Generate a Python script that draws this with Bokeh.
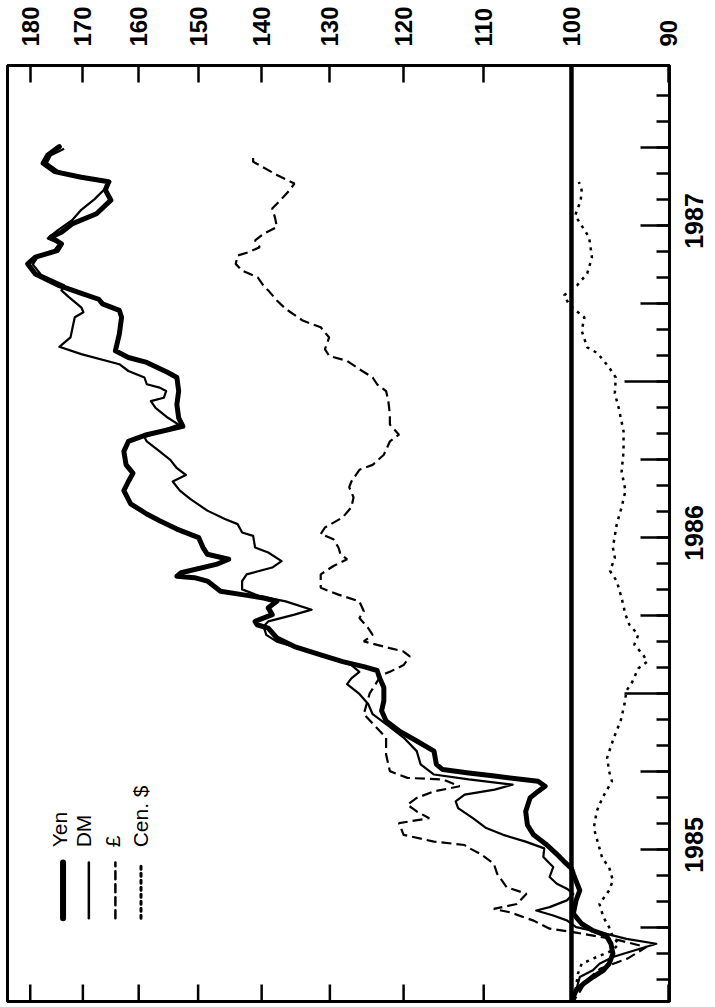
import math
from bokeh.plotting import figure
from bokeh.models import Range1d, FixedTicker, Label, Arrow
from bokeh.embed import file_html
from bokeh.resources import INLINE

# ---------------- data (index, start of period = 100; time in months from Jan 1985) ----------------
yen_months = [0.0, 0.32, 0.58, 0.83, 1.09, 1.35, 1.6, 1.99, 2.37, 2.69, 2.88, 3.14, 3.53, 4.04, 4.42,
              5.06, 5.27, 5.53, 5.85, 6.17, 6.56, 6.94, 7.46, 7.98, 8.23, 8.43, 8.62, 8.82, 8.94, 9.07,
              9.27, 9.78, 10.17, 10.56, 10.94, 11.33, 11.72, 12.23, 12.62, 12.88, 13.03, 13.22, 13.48,
              13.8, 14.13, 14.51, 14.64, 14.77, 15.03, 15.29, 15.54, 15.67, 15.8, 15.93, 16.32, 16.45,
              16.51, 16.64, 16.96, 17.16, 17.35, 17.61, 17.99, 18.32, 18.64, 18.9, 19.29, 19.8, 20.15,
              20.47, 20.79, 21.31, 21.69, 21.95, 22.27, 22.6, 23.11, 23.63, 24.15, 24.34, 24.73, 24.92,
              25.18, 25.82, 26.47, 26.73, 26.98, 27.16, 27.37, 27.68, 28.13, 28.52, 28.78, 29.03, 29.29,
              29.55, 29.74, 30.07, 30.45, 30.97, 31.36, 31.68, 31.85, 32.07, 32.39, 32.71, 33.03]
yen_index = [100.0, 99.8, 99.5, 98.7, 97.7, 96.6, 96.0, 95.6, 95.8, 96.3, 97.7, 98.9, 99.8, 99.5, 99.1,
             99.8, 100.0, 100.8, 101.7, 102.7, 104.2, 104.9, 105.1, 104.6, 103.7, 102.9, 103.7, 108.7, 111.8, 115.0,
             115.8, 116.1, 118.3, 120.6, 122.3, 122.9, 122.6, 122.6, 123.2, 123.5, 125.3, 128.2, 131.3,
             135.1, 137.7, 139.0, 140.7, 141.0, 138.4, 139.0, 137.7, 139.7, 143.0, 146.4, 148.5, 150.6,
             153.5, 152.8, 147.1, 145.1, 148.5, 149.2, 149.9, 153.5, 156.4, 158.6, 161.4, 162.6, 161.8,
             161.0, 162.2, 162.6, 161.8, 158.6, 152.5, 153.2, 153.5, 153.2, 153.5, 155.0, 158.6, 161.8,
             164.1, 163.4, 163.0, 163.4, 166.4, 167.1, 170.0, 174.4, 179.0, 180.5, 179.0, 174.8, 174.0,
             176.0, 174.0, 171.9, 167.5, 164.9, 165.9, 165.3, 170.3, 175.3, 177.5, 176.6, 174.4]

dm_months = [0.0, 0.26, 0.58, 1.09, 1.35, 1.6, 1.86, 2.1, 2.37, 2.56, 2.82, 3.01, 3.27, 3.46, 3.65, 3.78,
             4.04, 4.29, 4.49, 4.68, 4.94, 5.32, 5.71, 6.04, 6.3, 6.56, 6.82, 7.2, 7.59, 7.85, 8.11, 8.3,
             8.49, 8.69, 8.88, 9.27, 9.78, 10.3, 10.82, 11.2, 11.59, 11.98, 12.36, 12.58, 12.83, 13.09,
             13.35, 13.74, 13.99, 14.25, 14.58, 14.77, 15.03, 15.22, 15.54, 15.74, 16.0, 16.32, 16.58,
             16.84, 17.09, 17.42, 17.61, 18.06, 18.19, 18.51, 18.71, 19.03, 19.48, 19.8, 20.15, 20.4,
             20.66, 20.98, 21.31, 21.69, 21.85, 22.34, 22.6, 22.98, 23.24, 23.37, 23.63, 23.76, 23.89,
             24.15, 24.4, 24.66, 25.05, 25.33, 25.69, 26.08, 26.47, 26.66, 26.85, 27.24, 27.5, 27.7,
             28.1, 28.5, 28.8, 29.0, 29.3, 29.5, 29.8, 30.2, 30.6, 31.0, 31.4, 31.68, 31.85, 32.07,
             32.4, 32.7, 32.95]
dm_index = [100.0, 99.8, 99.5, 99.1, 97.7, 97.0, 95.6, 93.5, 91.2, 94.2, 97.0, 99.5, 100.5, 102.0, 103.9, 102.4,
            100.5, 99.8, 100.5, 101.6, 102.4, 102.0, 103.1, 103.0, 105.1, 107.7, 109.7, 111.3, 113.1, 113.4, 112.3, 108.7,
            106.6, 111.8, 116.1, 117.8, 118.3, 120.0, 122.3, 124.1, 124.7, 125.9, 127.6, 127.0, 125.9, 127.0,
            130.1, 134.5, 137.7, 139.3, 139.7, 139.0, 135.1, 132.6, 136.4, 140.3, 143.0, 143.0, 142.3,
            138.4, 137.0, 139.0, 141.0, 141.3, 143.0, 143.7, 145.7, 148.5, 151.3, 153.0, 154.2, 152.0,
            153.5, 154.6, 156.4, 158.6, 159.0, 153.2, 155.0, 157.1, 157.9, 155.7, 155.3, 156.4, 158.6,
            159.0, 161.8, 163.4, 170.3, 174.4, 172.3, 171.9, 171.5, 169.9, 170.3, 172.6, 174.0, 173.5,
            177.9, 179.5, 178.5, 175.5, 174.4, 176.6, 174.8, 172.0, 170.3, 167.9, 166.0, 165.0, 170.0, 174.5,
            176.8, 176.0, 173.5]

gbp_months = [0.0, 0.32, 0.58, 0.96, 1.42, 1.8, 2.24, 2.5, 2.8, 2.95, 3.26, 3.58, 3.71, 3.9, 4.29, 4.55,
              5.06, 5.45, 5.83, 6.09, 6.17, 6.3, 6.56, 7.01, 7.2, 7.46, 7.72, 7.98, 8.23, 8.43, 8.69, 8.75,
              9.01, 9.65, 10.3, 11.2, 12.0, 12.45, 12.71, 12.83, 13.09, 13.42, 13.61, 13.74, 14.0, 14.25,
              14.51, 14.9, 15.16, 15.54, 15.8, 16.06, 16.58, 16.9, 17.16, 17.35, 17.61, 17.93, 18.13,
              18.38, 18.77, 19.16, 19.54, 19.93, 20.15, 20.6, 20.79, 21.18, 21.69, 21.95, 22.34, 22.73,
              23.24, 23.63, 23.89, 24.15, 24.47, 24.79, 24.98, 25.24, 25.69, 26.08, 26.34, 26.79, 27.11,
              27.5, 27.68, 28.0, 28.26, 28.52, 28.84, 28.97, 29.16, 29.42, 29.68, 29.94, 30.32, 30.65,
              31.1, 31.36, 31.61, 31.94, 32.45, 32.71]
gbp_index = [100.0, 99.5, 99.0, 98.4, 96.9, 94.1, 92.2, 94.9, 99.5, 102.4, 104.2, 106.9, 108.8, 106.1, 105.0, 107.3,
             108.4, 108.8, 110.4, 112.0, 112.3, 116.1, 120.0, 120.6, 116.7, 118.3, 119.5, 118.3, 116.1, 112.9, 115.0, 119.5,
             121.8, 122.3, 122.3, 125.3, 124.5, 123.5, 122.9, 121.8, 120.0, 119.2, 120.0, 121.8, 125.3, 124.1,
             124.7, 125.9, 125.3, 125.9, 128.8, 131.3, 131.3, 129.5, 127.6, 128.5, 128.8, 129.5, 131.3,
             130.7, 128.2, 127.0, 126.7, 127.3, 127.0, 125.9, 124.1, 122.6, 121.8, 120.6, 121.8, 121.8,
             122.0, 122.3, 123.5, 124.1, 125.9, 127.6, 130.1, 130.7, 130.1, 131.3, 133.9, 136.4, 137.7,
             139.0, 139.7, 140.6, 143.0, 144.0, 143.7, 142.0, 140.3, 141.0, 139.7, 137.7, 138.0, 138.4,
             136.7, 135.8, 135.1, 137.7, 141.3, 141.3]

cad_months = [0.0, 0.45, 1.22, 1.6, 1.86, 2.12, 2.37, 2.63, 3.01, 3.4, 3.9, 4.42, 4.8, 5.32, 5.65, 6.17,
              6.82, 7.46, 7.98, 8.62, 9.01, 9.53, 10.3, 10.94, 11.59, 12.1, 12.45, 12.96, 13.22, 13.48,
              13.87, 14.25, 14.64, 15.03, 15.67, 16.32, 16.71, 17.22, 17.61, 18.51, 19.16, 19.8, 20.53,
              21.31, 22.08, 22.98, 23.54, 24.15, 24.54, 25.08, 25.31, 25.95, 26.46, 26.92, 27.31, 27.69,
              28.15, 28.77, 29.54, 30.38, 30.96, 31.36, 31.67]
cad_index = [100.0, 99.6, 99.3, 98.9, 97.3, 95.6, 95.0, 95.6, 96.0, 96.6, 97.0, 96.0, 95.6, 96.0, 96.7, 97.1,
             97.6, 97.3, 96.7, 95.7, 96.0, 96.2, 95.5, 94.8, 94.4, 94.2, 93.6, 93.0, 92.1, 92.5,
             93.4, 93.0, 93.9, 94.3, 94.7, 95.2, 95.9, 95.4, 95.6, 95.2, 94.7, 94.3, 94.7,
             94.5, 94.5, 95.0, 95.4, 95.3, 96.0, 97.2, 98.3, 98.9, 98.6, 100.2, 100.8, 99.4,
             98.3, 97.8, 98.1, 99.6, 99.0, 98.9, 99.2]

series_names = ["Yen", "DM", "\u00a3", "Cen. $"]
base_value = 100

value_ticks = [90, 100, 110, 120, 130, 140, 150, 160, 170, 180]
value_tick_labels = ["90", "100", "110", "120", "130", "140", "150", "160", "170", "180"]
year_labels = ["1985", "1986", "1987"]
year_mid_months = [6, 18, 30]
year_boundaries = [12, 24]
quarter_months = [3, 6, 9, 15, 18, 21, 27, 30, 33]
all_months = list(range(1, 36))

# ---------------- layout / style ----------------
X_LEFT, X_RIGHT = 184.5, 89.9
Y_START, Y_END = 0.15, 36.15
LABEL_FONT = "'Liberation Sans Narrow', 'Liberation Sans', sans-serif"
LEGEND_FONT = "Liberation Sans"
# rotated axis labels start at their tick and read upwards: start them half a label length
# below the middle of the year so that each label is centred on its year
LABEL_HALF_LENGTH_MONTHS = 0.9
year_label_ticks = [m - LABEL_HALF_LENGTH_MONTHS for m in year_mid_months]

p = figure(width=715, height=1007, x_axis_type="log",
           x_range=Range1d(X_LEFT, X_RIGHT), y_range=Range1d(Y_START, Y_END),
           x_axis_location="above", y_axis_location="right",
           output_backend="svg", toolbar_location=None,
           min_border_left=7, min_border_top=65, min_border_right=42, min_border_bottom=6)
p.grid.visible = False
p.outline_line_color = "black"
p.outline_line_width = 3
p.background_fill_color = "white"
p.border_fill_color = "white"

top = p.xaxis[0]
top.ticker = FixedTicker(ticks=value_ticks, minor_ticks=[])
top.major_label_overrides = dict(zip(value_ticks, value_tick_labels))
top.major_label_orientation = "vertical"
top.major_label_standoff = 19
top.major_label_text_font = LABEL_FONT
top.major_label_text_font_style = "bold"
top.major_label_text_font_size = "24px"
top.major_label_text_color = "black"
top.major_tick_in = 17
top.major_tick_out = 0
top.minor_tick_in = 0
top.minor_tick_out = 0
top.major_tick_line_width = 2.5
top.axis_line_width = 3

right = p.yaxis[0]
right.ticker = FixedTicker(ticks=year_label_ticks, minor_ticks=all_months)
right.major_label_overrides = dict(zip(year_label_ticks, year_labels))
right.major_label_orientation = math.pi / 2
right.major_label_standoff = 25
right.major_label_text_font = LABEL_FONT
right.major_label_text_font_style = "bold"
right.major_label_text_font_size = "25px"
right.major_label_text_color = "black"
right.major_tick_in = 0
right.major_tick_out = 0
right.minor_tick_in = 13
right.minor_tick_out = 0
right.minor_tick_line_width = 2.5
right.axis_line_width = 3

# inward ticks along the bottom edge (value scale)
p.ray(x=value_ticks, y=[Y_START] * len(value_ticks), length=17, length_units="screen",
      angle=math.pi / 2, line_width=2.5, line_color="black")
# quarter ticks and long year-boundary ticks (time scale)
p.ray(x=[X_RIGHT] * len(quarter_months), y=quarter_months, length=29, length_units="screen",
      angle=math.pi, line_width=2.5, line_color="black")
p.ray(x=[X_RIGHT] * len(year_boundaries), y=year_boundaries, length=45, length_units="screen",
      angle=math.pi, line_width=2.5, line_color="black")

# base line at 100
p.segment(x0=[base_value], y0=[Y_START], x1=[base_value], y1=[Y_END],
          line_color="black", line_width=4.5)

# series
p.line(cad_index, cad_months, line_color="black", line_width=2.5, line_dash="3 5")
p.line(gbp_index, gbp_months, line_color="black", line_width=2.2, line_dash="10 5")
p.line(dm_index, dm_months, line_color="black", line_width=2.2, line_join="round")
p.line(yen_index, yen_months, line_color="black", line_width=5, line_join="round", line_cap="round")

# hand-drawn rotated legend
legend_sample_x = [173.7, 168.9, 164.1, 159.6]
legend_text_x = [174.3, 169.9, 164.7, 159.7]
legend_widths = [6, 2.5, 2.5, 3]
legend_dashes = ["solid", "solid", "8 5", "3 4"]
for name, sx, tx, w, d in zip(series_names, legend_sample_x, legend_text_x, legend_widths, legend_dashes):
    p.add_layout(Arrow(end=None, x_start=sx, y_start=3.35, x_end=sx, y_end=5.5,
                       line_width=w, line_dash=d, line_color="black", line_cap="round"))
    p.add_layout(Label(x=tx, y=6.08, text=name, angle=math.pi / 2, text_align="left",
                       text_baseline="middle", text_font=LEGEND_FONT, text_font_size="21px",
                       text_color="black"))

open("out.html", "w").write(file_html(p, INLINE))
